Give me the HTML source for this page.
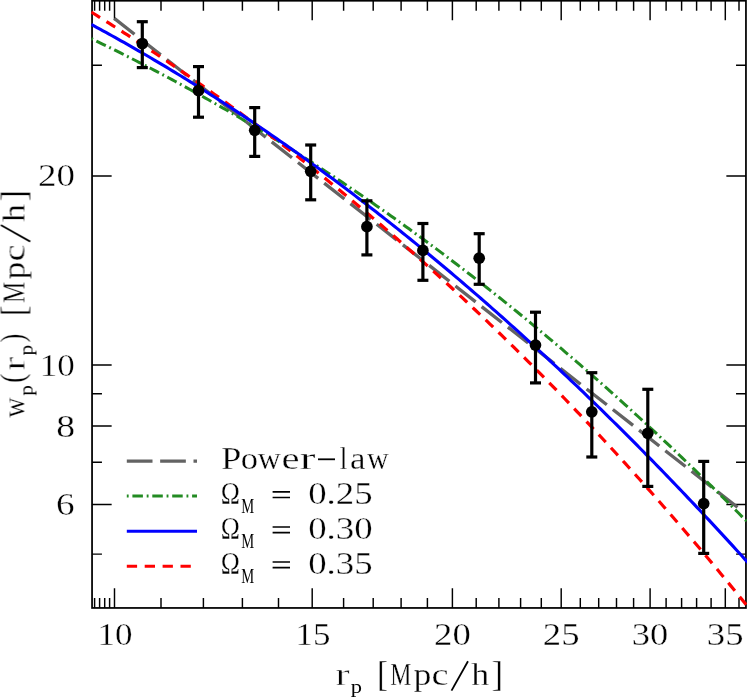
<!DOCTYPE html>
<html><head><meta charset="utf-8"><title>wp(rp)</title>
<style>
html,body{margin:0;padding:0;background:#fff;}
svg{display:block;}
text{font-family:"Liberation Serif",serif;fill:#000;}
</style></head><body>
<svg width="747" height="698" viewBox="0 0 747 698">
<rect x="0" y="0" width="747" height="698" fill="#fff"/>
<defs><clipPath id="c"><rect x="91.2" y="0" width="656" height="608.75"/></clipPath></defs>

<g stroke="#000" stroke-width="1.45" fill="none">
<path d="M114.5 607.95v-19.6M114.5 0.75v19.6"/>
<path d="M312.2 607.95v-19.6M312.2 0.75v19.6"/>
<path d="M452.4 607.95v-19.6M452.4 0.75v19.6"/>
<path d="M561.2 607.95v-19.6M561.2 0.75v19.6"/>
<path d="M650.1 607.95v-19.6M650.1 0.75v19.6"/>
<path d="M725.3 607.95v-19.6M725.3 0.75v19.6"/>
<path d="M94.6 607.95v-9.9M94.6 0.75v9.9"/>
<path d="M99.6 607.95v-9.9M99.6 0.75v9.9"/>
<path d="M104.7 607.95v-9.9M104.7 0.75v9.9"/>
<path d="M109.6 607.95v-9.9M109.6 0.75v9.9"/>
<path d="M161.0 607.95v-9.9M161.0 0.75v9.9"/>
<path d="M203.4 607.95v-9.9M203.4 0.75v9.9"/>
<path d="M242.4 607.95v-9.9M242.4 0.75v9.9"/>
<path d="M278.5 607.95v-9.9M278.5 0.75v9.9"/>
<path d="M343.6 607.95v-9.9M343.6 0.75v9.9"/>
<path d="M373.2 607.95v-9.9M373.2 0.75v9.9"/>
<path d="M401.1 607.95v-9.9M401.1 0.75v9.9"/>
<path d="M427.4 607.95v-9.9M427.4 0.75v9.9"/>
<path d="M476.2 607.95v-9.9M476.2 0.75v9.9"/>
<path d="M498.9 607.95v-9.9M498.9 0.75v9.9"/>
<path d="M520.6 607.95v-9.9M520.6 0.75v9.9"/>
<path d="M541.3 607.95v-9.9M541.3 0.75v9.9"/>
<path d="M580.3 607.95v-9.9M580.3 0.75v9.9"/>
<path d="M598.7 607.95v-9.9M598.7 0.75v9.9"/>
<path d="M616.5 607.95v-9.9M616.5 0.75v9.9"/>
<path d="M633.6 607.95v-9.9M633.6 0.75v9.9"/>
<path d="M666.1 607.95v-9.9M666.1 0.75v9.9"/>
<path d="M681.6 607.95v-9.9M681.6 0.75v9.9"/>
<path d="M696.6 607.95v-9.9M696.6 0.75v9.9"/>
<path d="M711.1 607.95v-9.9M711.1 0.75v9.9"/>
<path d="M739.0 607.95v-9.9M739.0 0.75v9.9"/>
<path d="M92.05 504.4h19.6M745.95 504.4h-19.6"/>
<path d="M92.05 425.9h19.6M745.95 425.9h-19.6"/>
<path d="M92.05 365.0h19.6M745.95 365.0h-19.6"/>
<path d="M92.05 175.9h19.6M745.95 175.9h-19.6"/>
<path d="M92.05 554.1h9.9M745.95 554.1h-9.9"/>
<path d="M92.05 462.3h9.9M745.95 462.3h-9.9"/>
<path d="M92.05 393.7h9.9M745.95 393.7h-9.9"/>
<path d="M92.05 65.3h9.9M745.95 65.3h-9.9"/>
</g>
<rect x="92.05" y="0.75" width="653.9000000000001" height="607.2" fill="none" stroke="#000" stroke-width="1.75"/>
<g clip-path="url(#c)" fill="none" stroke-linejoin="round">
<line x1="114.3" y1="18.4" x2="737.5" y2="507.3" stroke="#636363" stroke-width="3.3" stroke-dasharray="25.7 7.65"/>
<polyline points="91.3,38.66 94.0,39.95 97.0,41.40 100.0,42.85 103.0,44.31 106.0,45.77 109.0,47.24 112.0,48.72 115.0,50.20 118.0,51.69 121.0,53.19 124.0,54.69 127.0,56.20 130.0,57.72 133.0,59.24 136.0,60.77 139.0,62.31 142.0,63.85 145.0,65.40 148.0,66.96 151.0,68.52 154.0,70.09 157.0,71.67 160.0,73.25 163.0,74.84 166.0,76.44 169.0,78.05 172.0,79.66 175.0,81.27 178.0,82.90 181.0,84.53 184.0,86.17 187.0,87.81 190.0,89.46 193.0,91.12 196.0,92.78 199.0,94.46 202.0,96.14 205.0,97.82 208.0,99.51 211.0,101.21 214.0,102.92 217.0,104.63 220.0,106.35 223.0,108.08 226.0,109.81 229.0,111.55 232.0,113.30 235.0,115.05 238.0,116.81 241.0,118.58 244.0,120.35 247.0,122.14 250.0,123.93 253.0,125.72 256.0,127.52 259.0,129.33 262.0,131.15 265.0,132.97 268.0,134.80 271.0,136.64 274.0,138.49 277.0,140.34 280.0,142.19 283.0,144.06 286.0,145.93 289.0,147.81 292.0,149.70 295.0,151.59 298.0,153.49 301.0,155.40 304.0,157.32 307.0,159.24 310.0,161.17 313.0,163.10 316.0,165.05 319.0,167.00 322.0,168.95 325.0,170.92 328.0,172.89 331.0,174.87 334.0,176.85 337.0,178.85 340.0,180.85 343.0,182.85 346.0,184.87 349.0,186.89 352.0,188.92 355.0,190.96 358.0,193.00 361.0,195.05 364.0,197.11 367.0,199.17 370.0,201.24 373.0,203.32 376.0,205.41 379.0,207.50 382.0,209.60 385.0,211.71 388.0,213.83 391.0,215.95 394.0,218.08 397.0,220.22 400.0,222.36 403.0,224.52 406.0,226.68 409.0,228.84 412.0,231.02 415.0,233.20 418.0,235.39 421.0,237.58 424.0,239.79 427.0,242.00 430.0,244.22 433.0,246.44 436.0,248.67 439.0,250.91 442.0,253.16 445.0,255.42 448.0,257.68 451.0,259.95 454.0,262.23 457.0,264.51 460.0,266.80 463.0,269.10 466.0,271.41 469.0,273.73 472.0,276.05 475.0,278.38 478.0,280.72 481.0,283.06 484.0,285.41 487.0,287.77 490.0,290.14 493.0,292.51 496.0,294.90 499.0,297.29 502.0,299.68 505.0,302.09 508.0,304.50 511.0,306.92 514.0,309.35 517.0,311.78 520.0,314.23 523.0,316.68 526.0,319.13 529.0,321.60 532.0,324.07 535.0,326.55 538.0,329.04 541.0,331.54 544.0,334.04 547.0,336.55 550.0,339.07 553.0,341.60 556.0,344.13 559.0,346.68 562.0,349.23 565.0,351.78 568.0,354.35 571.0,356.92 574.0,359.50 577.0,362.09 580.0,364.69 583.0,367.29 586.0,369.90 589.0,372.52 592.0,375.15 595.0,377.78 598.0,380.43 601.0,383.08 604.0,385.74 607.0,388.40 610.0,391.08 613.0,393.76 616.0,396.45 619.0,399.14 622.0,401.85 625.0,404.56 628.0,407.28 631.0,410.01 634.0,412.75 637.0,415.49 640.0,418.25 643.0,421.01 646.0,423.77 649.0,426.55 652.0,429.33 655.0,432.13 658.0,434.93 661.0,437.73 664.0,440.55 667.0,443.37 670.0,446.20 673.0,449.04 676.0,451.89 679.0,454.75 682.0,457.61 685.0,460.48 688.0,463.36 691.0,466.25 694.0,469.14 697.0,472.05 700.0,474.96 703.0,477.88 706.0,480.81 709.0,483.74 712.0,486.69 715.0,489.64 718.0,492.60 721.0,495.57 724.0,498.54 727.0,501.53 730.0,504.52 733.0,507.52 736.0,510.53 739.0,513.54 742.0,516.57 745.0,519.60 748.0,522.64 751.0,525.69" stroke="#228b22" stroke-width="3" stroke-dasharray="1.85 3.75 10.5 3.8"/>
<polyline points="91.3,12.08 94.0,13.76 97.0,15.64 100.0,17.52 103.0,19.40 106.0,21.29 109.0,23.19 112.0,25.10 115.0,27.01 118.0,28.93 121.0,30.85 124.0,32.79 127.0,34.72 130.0,36.67 133.0,38.62 136.0,40.58 139.0,42.55 142.0,44.52 145.0,46.50 148.0,48.48 151.0,50.47 154.0,52.47 157.0,54.48 160.0,56.49 163.0,58.51 166.0,60.54 169.0,62.57 172.0,64.62 175.0,66.66 178.0,68.72 181.0,70.78 184.0,72.85 187.0,74.92 190.0,77.01 193.0,79.10 196.0,81.19 199.0,83.30 202.0,85.41 205.0,87.53 208.0,89.65 211.0,91.79 214.0,93.93 217.0,96.07 220.0,98.23 223.0,100.39 226.0,102.56 229.0,104.74 232.0,106.92 235.0,109.11 238.0,111.31 241.0,113.51 244.0,115.73 247.0,117.95 250.0,120.18 253.0,122.41 256.0,124.65 259.0,126.90 262.0,129.16 265.0,131.43 268.0,133.70 271.0,135.98 274.0,138.27 277.0,140.56 280.0,142.87 283.0,145.18 286.0,147.49 289.0,149.82 292.0,152.15 295.0,154.50 298.0,156.84 301.0,159.20 304.0,161.57 307.0,163.94 310.0,166.32 313.0,168.71 316.0,171.10 319.0,173.50 322.0,175.92 325.0,178.34 328.0,180.76 331.0,183.20 334.0,185.64 337.0,188.09 340.0,190.55 343.0,193.02 346.0,195.49 349.0,197.97 352.0,200.47 355.0,202.96 358.0,205.47 361.0,207.99 364.0,210.51 367.0,213.04 370.0,215.58 373.0,218.13 376.0,220.68 379.0,223.25 382.0,225.82 385.0,228.40 388.0,230.99 391.0,233.59 394.0,236.19 397.0,238.81 400.0,241.43 403.0,244.06 406.0,246.70 409.0,249.35 412.0,252.00 415.0,254.66 418.0,257.34 421.0,260.02 424.0,262.71 427.0,265.41 430.0,268.11 433.0,270.83 436.0,273.55 439.0,276.28 442.0,279.02 445.0,281.77 448.0,284.53 451.0,287.30 454.0,290.07 457.0,292.85 460.0,295.65 463.0,298.45 466.0,301.26 469.0,304.08 472.0,306.90 475.0,309.74 478.0,312.59 481.0,315.44 484.0,318.30 487.0,321.17 490.0,324.05 493.0,326.94 496.0,329.84 499.0,332.75 502.0,335.66 505.0,338.59 508.0,341.52 511.0,344.47 514.0,347.42 517.0,350.38 520.0,353.35 523.0,356.33 526.0,359.32 529.0,362.31 532.0,365.32 535.0,368.34 538.0,371.36 541.0,374.40 544.0,377.44 547.0,380.49 550.0,383.55 553.0,386.62 556.0,389.70 559.0,392.79 562.0,395.89 565.0,399.00 568.0,402.12 571.0,405.25 574.0,408.38 577.0,411.53 580.0,414.68 583.0,417.85 586.0,421.02 589.0,424.21 592.0,427.40 595.0,430.60 598.0,433.81 601.0,437.03 604.0,440.27 607.0,443.51 610.0,446.76 613.0,450.02 616.0,453.29 619.0,456.57 622.0,459.86 625.0,463.15 628.0,466.46 631.0,469.78 634.0,473.11 637.0,476.45 640.0,479.79 643.0,483.15 646.0,486.52 649.0,489.89 652.0,493.28 655.0,496.68 658.0,500.08 661.0,503.50 664.0,506.93 667.0,510.36 670.0,513.81 673.0,517.27 676.0,520.73 679.0,524.21 682.0,527.70 685.0,531.19 688.0,534.70 691.0,538.21 694.0,541.74 697.0,545.28 700.0,548.83 703.0,552.38 706.0,555.95 709.0,559.53 712.0,563.12 715.0,566.71 718.0,570.32 721.0,573.94 724.0,577.57 727.0,581.21 730.0,584.86 733.0,588.52 736.0,592.19 739.0,595.87 742.0,599.56 745.0,603.26 748.0,606.97 751.0,610.69" stroke="#f00" stroke-width="3.2" stroke-dasharray="10.3 7.6"/>
<polyline points="91.3,24.45 94.0,25.91 97.0,27.53 100.0,29.16 103.0,30.80 106.0,32.44 109.0,34.10 112.0,35.76 115.0,37.42 118.0,39.10 121.0,40.78 124.0,42.47 127.0,44.17 130.0,45.88 133.0,47.59 136.0,49.31 139.0,51.04 142.0,52.78 145.0,54.52 148.0,56.27 151.0,58.03 154.0,59.80 157.0,61.57 160.0,63.36 163.0,65.15 166.0,66.94 169.0,68.75 172.0,70.56 175.0,72.38 178.0,74.21 181.0,76.04 184.0,77.89 187.0,79.74 190.0,81.60 193.0,83.46 196.0,85.34 199.0,87.22 202.0,89.11 205.0,91.00 208.0,92.91 211.0,94.82 214.0,96.74 217.0,98.66 220.0,100.60 223.0,102.54 226.0,104.49 229.0,106.45 232.0,108.42 235.0,110.39 238.0,112.37 241.0,114.36 244.0,116.35 247.0,118.36 250.0,120.37 253.0,122.39 256.0,124.42 259.0,126.45 262.0,128.49 265.0,130.54 268.0,132.60 271.0,134.67 274.0,136.74 277.0,138.82 280.0,140.91 283.0,143.00 286.0,145.11 289.0,147.22 292.0,149.34 295.0,151.47 298.0,153.60 301.0,155.74 304.0,157.89 307.0,160.05 310.0,162.22 313.0,164.39 316.0,166.57 319.0,168.76 322.0,170.96 325.0,173.16 328.0,175.38 331.0,177.60 334.0,179.82 337.0,182.06 340.0,184.30 343.0,186.55 346.0,188.81 349.0,191.08 352.0,193.35 355.0,195.63 358.0,197.92 361.0,200.22 364.0,202.53 367.0,204.84 370.0,207.16 373.0,209.49 376.0,211.83 379.0,214.17 382.0,216.52 385.0,218.88 388.0,221.25 391.0,223.63 394.0,226.01 397.0,228.40 400.0,230.80 403.0,233.21 406.0,235.62 409.0,238.04 412.0,240.47 415.0,242.91 418.0,245.36 421.0,247.81 424.0,250.27 427.0,252.74 430.0,255.22 433.0,257.70 436.0,260.20 439.0,262.70 442.0,265.21 445.0,267.72 448.0,270.25 451.0,272.78 454.0,275.32 457.0,277.87 460.0,280.42 463.0,282.98 466.0,285.56 469.0,288.13 472.0,290.72 475.0,293.32 478.0,295.92 481.0,298.53 484.0,301.15 487.0,303.77 490.0,306.41 493.0,309.05 496.0,311.70 499.0,314.36 502.0,317.02 505.0,319.70 508.0,322.38 511.0,325.07 514.0,327.77 517.0,330.47 520.0,333.19 523.0,335.91 526.0,338.64 529.0,341.37 532.0,344.12 535.0,346.87 538.0,349.63 541.0,352.40 544.0,355.18 547.0,357.96 550.0,360.75 553.0,363.55 556.0,366.36 559.0,369.18 562.0,372.00 565.0,374.83 568.0,377.67 571.0,380.52 574.0,383.38 577.0,386.24 580.0,389.11 583.0,391.99 586.0,394.88 589.0,397.78 592.0,400.68 595.0,403.59 598.0,406.51 601.0,409.44 604.0,412.37 607.0,415.32 610.0,418.27 613.0,421.23 616.0,424.19 619.0,427.17 622.0,430.15 625.0,433.14 628.0,436.14 631.0,439.15 634.0,442.17 637.0,445.19 640.0,448.22 643.0,451.26 646.0,454.31 649.0,457.36 652.0,460.43 655.0,463.50 658.0,466.58 661.0,469.66 664.0,472.76 667.0,475.86 670.0,478.97 673.0,482.09 676.0,485.22 679.0,488.36 682.0,491.50 685.0,494.65 688.0,497.81 691.0,500.98 694.0,504.15 697.0,507.34 700.0,510.53 703.0,513.73 706.0,516.94 709.0,520.15 712.0,523.38 715.0,526.61 718.0,529.85 721.0,533.10 724.0,536.36 727.0,539.62 730.0,542.89 733.0,546.17 736.0,549.46 739.0,552.76 742.0,556.06 745.0,559.38 748.0,562.70 751.0,566.03" stroke="#00f" stroke-width="3.1"/>
</g>
<g stroke="#000" stroke-width="3.2" fill="#000">
<line x1="142.3" y1="21.7" x2="142.3" y2="67.6"/>
<line x1="136.8" y1="21.7" x2="147.8" y2="21.7" stroke-width="3.2"/>
<line x1="136.8" y1="67.6" x2="147.8" y2="67.6" stroke-width="3.2"/>
<circle cx="142.3" cy="43.5" r="5.85" stroke="none"/>
<line x1="198.5" y1="66.6" x2="198.5" y2="117.2"/>
<line x1="193.0" y1="66.6" x2="204.0" y2="66.6" stroke-width="3.2"/>
<line x1="193.0" y1="117.2" x2="204.0" y2="117.2" stroke-width="3.2"/>
<circle cx="198.5" cy="90.5" r="5.85" stroke="none"/>
<line x1="254.7" y1="107.6" x2="254.7" y2="156.4"/>
<line x1="249.2" y1="107.6" x2="260.2" y2="107.6" stroke-width="3.2"/>
<line x1="249.2" y1="156.4" x2="260.2" y2="156.4" stroke-width="3.2"/>
<circle cx="254.7" cy="130.3" r="5.85" stroke="none"/>
<line x1="310.7" y1="145" x2="310.7" y2="199.8"/>
<line x1="305.2" y1="145" x2="316.2" y2="145" stroke-width="3.2"/>
<line x1="305.2" y1="199.8" x2="316.2" y2="199.8" stroke-width="3.2"/>
<circle cx="310.7" cy="171.3" r="5.85" stroke="none"/>
<line x1="366.9" y1="200.8" x2="366.9" y2="254.9"/>
<line x1="361.4" y1="200.8" x2="372.4" y2="200.8" stroke-width="3.2"/>
<line x1="361.4" y1="254.9" x2="372.4" y2="254.9" stroke-width="3.2"/>
<circle cx="366.9" cy="226.7" r="5.85" stroke="none"/>
<line x1="422.9" y1="223.5" x2="422.9" y2="280.3"/>
<line x1="417.4" y1="223.5" x2="428.4" y2="223.5" stroke-width="3.2"/>
<line x1="417.4" y1="280.3" x2="428.4" y2="280.3" stroke-width="3.2"/>
<circle cx="422.9" cy="250.4" r="5.85" stroke="none"/>
<line x1="479.2" y1="233.7" x2="479.2" y2="284.3"/>
<line x1="473.7" y1="233.7" x2="484.7" y2="233.7" stroke-width="3.2"/>
<line x1="473.7" y1="284.3" x2="484.7" y2="284.3" stroke-width="3.2"/>
<circle cx="479.2" cy="258.2" r="5.85" stroke="none"/>
<line x1="535.5" y1="312.2" x2="535.5" y2="382.9"/>
<line x1="530.0" y1="312.2" x2="541.0" y2="312.2" stroke-width="3.2"/>
<line x1="530.0" y1="382.9" x2="541.0" y2="382.9" stroke-width="3.2"/>
<circle cx="535.5" cy="345.1" r="5.85" stroke="none"/>
<line x1="591.8" y1="372.7" x2="591.8" y2="457"/>
<line x1="586.3" y1="372.7" x2="597.3" y2="372.7" stroke-width="3.2"/>
<line x1="586.3" y1="457" x2="597.3" y2="457" stroke-width="3.2"/>
<circle cx="591.8" cy="411.8" r="5.85" stroke="none"/>
<line x1="647.8" y1="389.3" x2="647.8" y2="486.4"/>
<line x1="642.3" y1="389.3" x2="653.3" y2="389.3" stroke-width="3.2"/>
<line x1="642.3" y1="486.4" x2="653.3" y2="486.4" stroke-width="3.2"/>
<circle cx="647.8" cy="433.3" r="5.85" stroke="none"/>
<line x1="703.7" y1="461.4" x2="703.7" y2="553.4"/>
<line x1="698.2" y1="461.4" x2="709.2" y2="461.4" stroke-width="3.2"/>
<line x1="698.2" y1="553.4" x2="709.2" y2="553.4" stroke-width="3.2"/>
<circle cx="703.7" cy="503.6" r="5.85" stroke="none"/>
</g>
<g opacity="0.999">
<text transform="matrix(1.1686 0 0 1.0533 97.44 645.30)" font-size="30" stroke="#fff" stroke-width="0.3">10</text>
<text transform="matrix(1.1648 0 0 1.0533 295.56 645.30)" font-size="30" stroke="#fff" stroke-width="0.3">15</text>
<text transform="matrix(1.2240 0 0 1.0533 434.05 645.30)" font-size="30" stroke="#fff" stroke-width="0.3">20</text>
<text transform="matrix(1.2240 0 0 1.0533 542.85 645.30)" font-size="30" stroke="#fff" stroke-width="0.3">25</text>
<text transform="matrix(1.2161 0 0 1.0533 631.78 645.30)" font-size="30" stroke="#fff" stroke-width="0.3">30</text>
<text transform="matrix(1.2234 0 0 1.0533 706.86 645.30)" font-size="30" stroke="#fff" stroke-width="0.3">35</text>
<text transform="matrix(1.2313 0 0 1.0533 37.94 186.10)" font-size="30" stroke="#fff" stroke-width="0.3">20</text>
<text transform="matrix(1.1686 0 0 1.0533 39.74 375.70)" font-size="30" stroke="#fff" stroke-width="0.3">10</text>
<text transform="matrix(1.2540 0 0 1.0533 56.20 436.60)" font-size="30" stroke="#fff" stroke-width="0.3">8</text>
<text transform="matrix(1.2392 0 0 1.0533 56.03 514.80)" font-size="30" stroke="#fff" stroke-width="0.3">6</text>
<text transform="matrix(1.4426 0 0 1.0467 335.13 684.90)" font-size="30" stroke="#fff" stroke-width="0.5">r</text>
<text transform="matrix(0.7491 0 0 0.6489 350.76 693.30)" font-size="30">p</text>
<text transform="matrix(1.1212 0 0 1.2100 376.88 685.90)" font-size="30" stroke="#fff" stroke-width="0.3">[</text>
<text transform="matrix(0.7952 0 0 1.0467 390.18 684.90)" font-size="30" stroke="#fff" stroke-width="0.3">M</text>
<text transform="matrix(1.1910 0 0 1.0467 413.56 684.90)" font-size="30" stroke="#fff" stroke-width="0.3">p</text>
<text transform="matrix(1.2800 0 0 1.0467 431.56 684.90)" font-size="30" stroke="#fff" stroke-width="0.3">c</text>
<text transform="matrix(1.2000 0 0 1.0467 471.14 684.90)" font-size="30" stroke="#fff" stroke-width="0.3">h</text>
<text transform="matrix(1.1556 0 0 1.2100 491.59 685.90)" font-size="30" stroke="#fff" stroke-width="0.3">]</text>
<line x1="451.5" y1="690.6" x2="468.0" y2="661.3" stroke="#000" stroke-width="1.8"/>
<g transform="translate(24.5 417) rotate(-90)">
<text transform="matrix(0.9352 0 0 1.0467 -0.70 0.00)" font-size="30" stroke="#fff" stroke-width="0.3">w</text>
<text transform="matrix(0.7116 0 0 0.6489 21.28 8.40)" font-size="30">p</text>
<text transform="matrix(0.9542 0 0 1.1133 34.01 -0.60)" font-size="30" stroke="#fff" stroke-width="0.3">(</text>
<text transform="matrix(1.4098 0 0 1.0467 46.15 0.00)" font-size="30" stroke="#fff" stroke-width="0.5">r</text>
<text transform="matrix(0.7116 0 0 0.6489 61.58 8.40)" font-size="30">p</text>
<text transform="matrix(0.8846 0 0 1.1133 74.40 -0.60)" font-size="30" stroke="#fff" stroke-width="0.3">)</text>
<text transform="matrix(1.1212 0 0 1.2100 100.78 1.00)" font-size="30" stroke="#fff" stroke-width="0.3">[</text>
<text transform="matrix(0.7952 0 0 1.0467 114.08 0.00)" font-size="30" stroke="#fff" stroke-width="0.3">M</text>
<text transform="matrix(1.1910 0 0 1.0467 137.46 0.00)" font-size="30" stroke="#fff" stroke-width="0.3">p</text>
<text transform="matrix(1.2800 0 0 1.0467 155.46 0.00)" font-size="30" stroke="#fff" stroke-width="0.3">c</text>
<text transform="matrix(1.2000 0 0 1.0467 195.04 0.00)" font-size="30" stroke="#fff" stroke-width="0.3">h</text>
<text transform="matrix(1.1556 0 0 1.2100 215.49 1.00)" font-size="30" stroke="#fff" stroke-width="0.3">]</text>
<line x1="175.4" y1="5.7" x2="191.9" y2="-23.6" stroke="#000" stroke-width="1.8"/>
</g>
<g fill="none">
<line x1="126.8" y1="461.1" x2="197.0" y2="461.1" stroke="#636363" stroke-width="3.3" stroke-dasharray="25.7 7.65"/>
<line x1="126.8" y1="496.1" x2="197.0" y2="496.1" stroke="#228b22" stroke-width="3" stroke-dasharray="1.85 3.75 10.5 3.8"/>
<line x1="126.8" y1="531.2" x2="197.0" y2="531.2" stroke="#00f" stroke-width="3.1"/>
<line x1="126.8" y1="566.25" x2="197.0" y2="566.25" stroke="#f00" stroke-width="3.2" stroke-dasharray="10.3 7.6"/>
</g>
<text transform="matrix(1.2165 0 0 1.0467 220.91 468.80)" font-size="30" stroke="#fff" stroke-width="0.3">P</text>
<text transform="matrix(1.1508 0 0 1.0467 240.72 468.80)" font-size="30" stroke="#fff" stroke-width="0.3">o</text>
<text transform="matrix(1.0602 0 0 1.0467 257.80 468.80)" font-size="30" stroke="#fff" stroke-width="0.3">w</text>
<text transform="matrix(1.3514 0 0 1.0467 281.48 468.80)" font-size="30" stroke="#fff" stroke-width="0.3">e</text>
<text transform="matrix(1.5738 0 0 1.0467 299.66 468.80)" font-size="30" stroke="#fff" stroke-width="0.3">r</text>
<text transform="matrix(0.9167 0 0 1.0467 339.85 468.80)" font-size="30" stroke="#fff" stroke-width="0.3">l</text>
<text transform="matrix(1.1646 0 0 1.0467 349.98 468.80)" font-size="30" stroke="#fff" stroke-width="0.3">a</text>
<text transform="matrix(1.0000 0 0 1.0467 366.90 468.80)" font-size="30" stroke="#fff" stroke-width="0.3">w</text>
<line x1="318" y1="459.3" x2="335" y2="459.3" stroke="#000" stroke-width="1.8"/>
<text transform="matrix(0.8594 0 0 1.0467 220.71 503.80)" font-size="30" stroke="#fff" stroke-width="0.3">Ω</text>
<text transform="matrix(0.4859 0 0 0.6908 241.26 512.50)" font-size="30">M</text>
<path d="M272.6 491.9h17.4M272.6 497.5h17.4" stroke="#000" stroke-width="1.7" fill="none"/>
<text transform="matrix(1.2275 0 0 1.0533 308.13 503.90)" font-size="30" stroke="#fff" stroke-width="0.3">0.25</text>
<text transform="matrix(0.8594 0 0 1.0467 220.71 538.85)" font-size="30" stroke="#fff" stroke-width="0.3">Ω</text>
<text transform="matrix(0.4859 0 0 0.6908 241.26 547.55)" font-size="30">M</text>
<path d="M272.6 527.0h17.4M272.6 532.6h17.4" stroke="#000" stroke-width="1.7" fill="none"/>
<text transform="matrix(1.2275 0 0 1.0533 308.13 538.95)" font-size="30" stroke="#fff" stroke-width="0.3">0.30</text>
<text transform="matrix(0.8594 0 0 1.0467 220.71 573.90)" font-size="30" stroke="#fff" stroke-width="0.3">Ω</text>
<text transform="matrix(0.4859 0 0 0.6908 241.26 582.60)" font-size="30">M</text>
<path d="M272.6 562.0h17.4M272.6 567.6h17.4" stroke="#000" stroke-width="1.7" fill="none"/>
<text transform="matrix(1.2275 0 0 1.0533 308.13 574.00)" font-size="30" stroke="#fff" stroke-width="0.3">0.35</text>
</g>
</svg></body></html>
